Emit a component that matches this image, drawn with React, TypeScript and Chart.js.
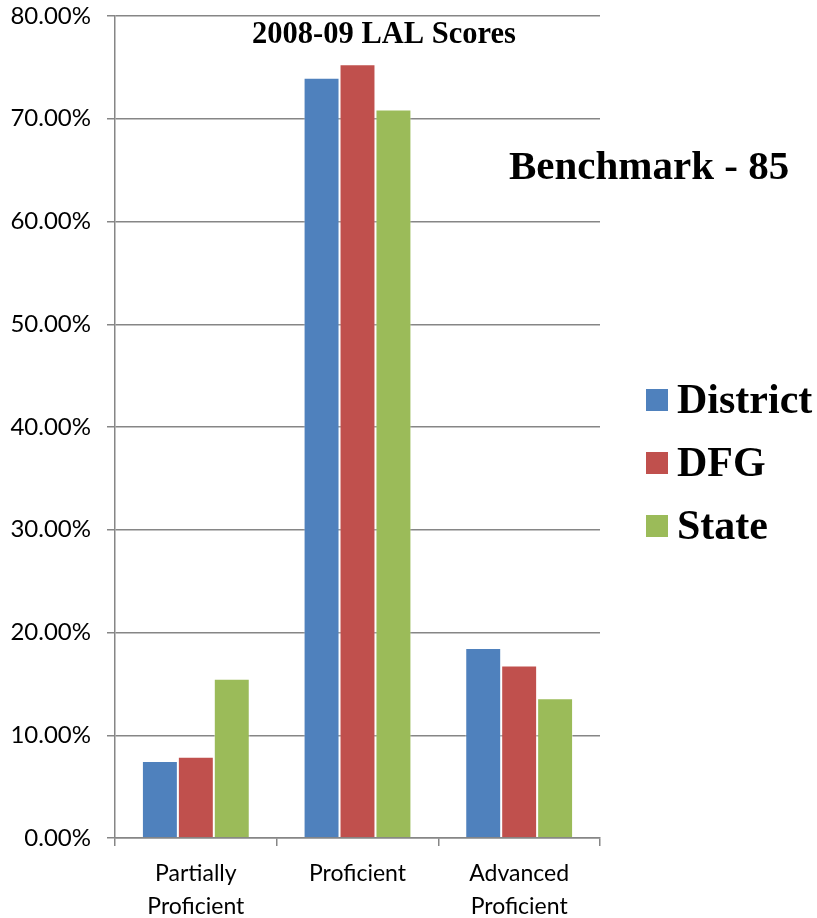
import React, { useEffect, useRef } from "react";
import { Chart, registerables } from "chart.js";

Chart.register(...registerables);

const categories: (string | string[])[] = [["Partially", "Proficient"], "Proficient", ["Advanced", "Proficient"]];
const seriesNames = ["District", "DFG", "State"];
const district = [7.5, 74.0, 18.5];
const dfg = [7.9, 75.3, 16.8];
const state = [15.5, 70.9, 13.6];
const colors = ["#4F81BD", "#C0504D", "#9BBB59"];
const chartTitle = "2008-09 LAL Scores";
const benchmark = "Benchmark - 85";

const overlayPlugin = {
  id: "overlay",
  afterDraw(chart: any) {
    const ctx = chart.ctx;
    ctx.save();
    ctx.fillStyle = "#000";
    ctx.textBaseline = "middle";
    ctx.textAlign = "center";
    ctx.font = "bold 30.5px 'Liberation Serif', 'DejaVu Serif', serif";
    ctx.fillText(chartTitle, 384, 35);
    ctx.textAlign = "left";
    ctx.font = "bold 41px 'Liberation Serif', 'DejaVu Serif', serif";
    ctx.fillText(benchmark, 509, 168);
    ctx.font = "bold 42px 'Liberation Serif', 'DejaVu Serif', serif";
    const ys = [400, 463, 526];
    seriesNames.forEach((n, i) => {
      ctx.fillStyle = colors[i];
      ctx.fillRect(646, ys[i] - 11, 22, 22);
      ctx.fillStyle = "#000";
      ctx.fillText(n, 677, ys[i] + 2);
    });
    ctx.restore();
  },
};

export default function App() {
  const ref = useRef<HTMLCanvasElement>(null);
  useEffect(() => {
    const data = [district, dfg, state];
    const chart = new Chart(ref.current!, {
      type: "bar",
      data: {
        labels: categories,
        datasets: seriesNames.map((n, i) => ({
          label: n,
          data: data[i],
          backgroundColor: colors[i],
          borderColor: "rgba(255,255,255,0.45)",
          borderWidth: 1,
          categoryPercentage: 0.667,
          barPercentage: 1,
        })),
      },
      options: {
        animation: false,
        responsive: false,
        maintainAspectRatio: false,
        layout: { padding: { top: 16, right: 217, left: 0, bottom: 0 } },
        plugins: { legend: { display: false }, title: { display: false }, tooltip: { enabled: false } },
        scales: {
          x: {
            afterFit: (s: any) => { s.height = 80; s.paddingLeft = 0; s.paddingRight = 0; },
            grid: { display: true, offset: true, drawOnChartArea: false, drawTicks: true, tickLength: 8, color: "#868686", lineWidth: 1.5 },
            border: { color: "#868686", width: 1.5 },
            ticks: { color: "#000", font: { family: "Lato, 'Open Sans', sans-serif", size: 23, lineHeight: 1.43 }, padding: 11, maxRotation: 0 },
          },
          y: {
            min: 0,
            max: 80,
            afterFit: (s: any) => { s.width = 115; s.paddingTop = 0; s.paddingBottom = 0; },
            grid: { color: "#868686", lineWidth: 1.5, tickLength: 8 },
            border: { color: "#868686", width: 1.5 },
            ticks: {
              stepSize: 10,
              color: "#000",
              padding: 16,
              font: { family: "Lato, 'Open Sans', sans-serif", size: 24 },
              callback: (v: any) => Number(v).toFixed(2) + "%",
            },
          },
        },
      },
      plugins: [overlayPlugin],
    });
    return () => chart.destroy();
  }, []);
  return (
    <div style={{ position: "fixed", left: 0, top: 0, width: 817, height: 918, background: "#fff" }}>
      <canvas ref={ref} width={817} height={918} style={{ width: 817, height: 918 }} />
    </div>
  );
}
